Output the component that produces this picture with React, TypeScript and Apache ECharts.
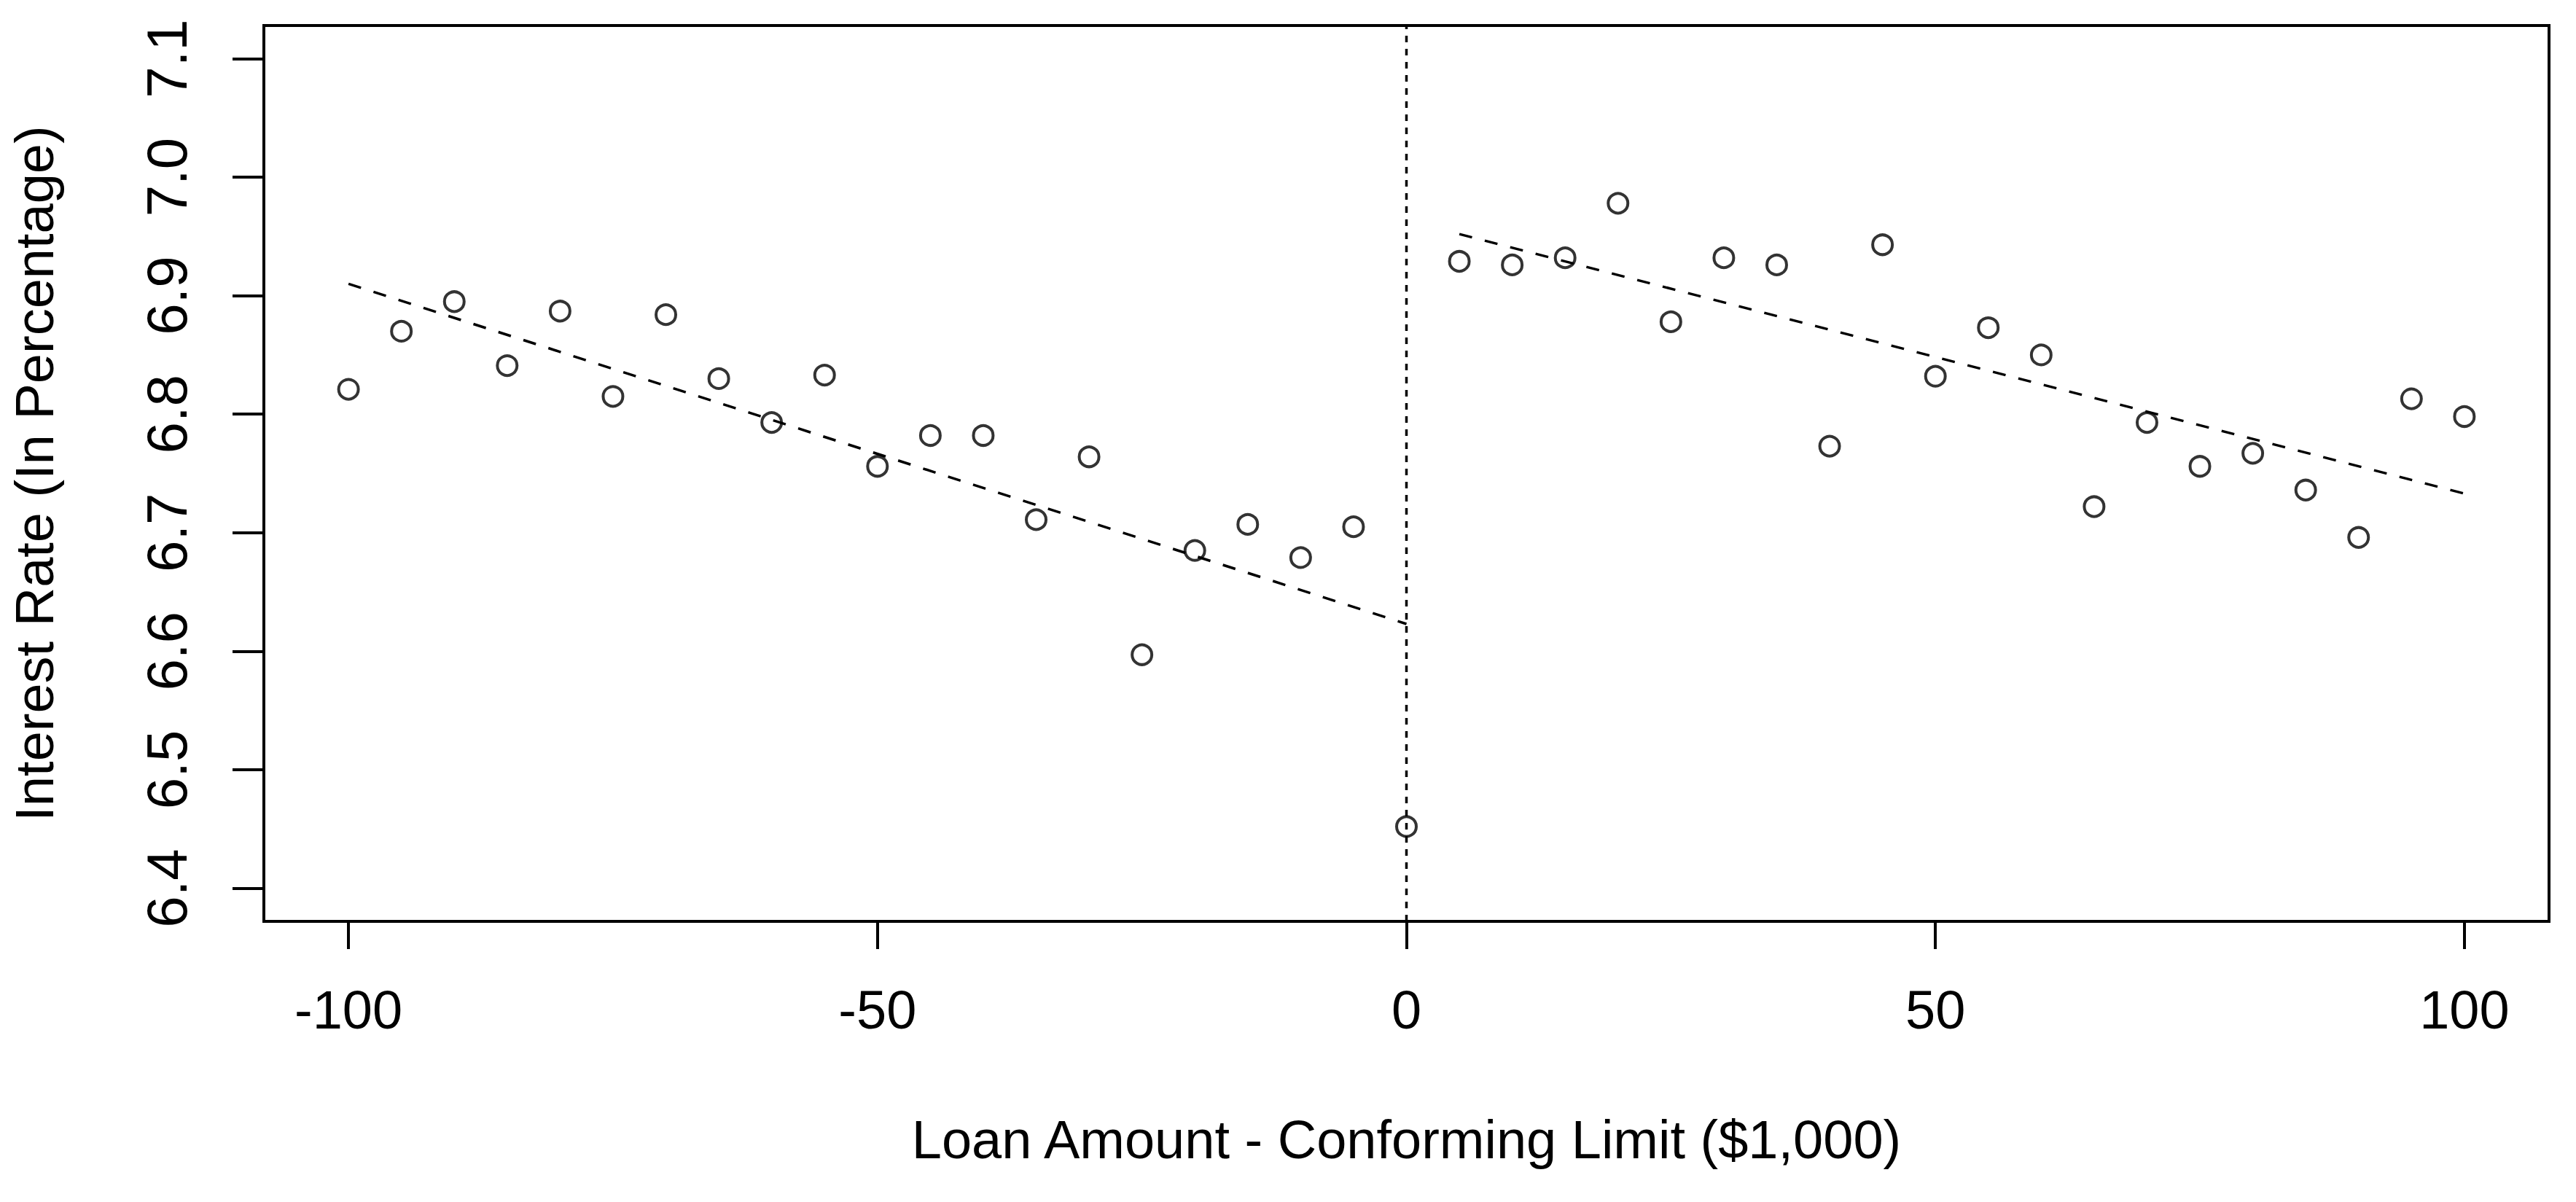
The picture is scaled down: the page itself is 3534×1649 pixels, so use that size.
import React, { useEffect, useRef } from "react";
import * as echarts from "echarts";

// Bin centers: loan amount minus conforming limit ($1,000)
const xValues = [
  -100, -95, -90, -85, -80, -75, -70, -65, -60, -55, -50, -45, -40, -35, -30, -25, -20, -15, -10, -5,
  0,
  5, 10, 15, 20, 25, 30, 35, 40, 45, 50, 55, 60, 65, 70, 75, 80, 85, 90, 95, 100,
];
// Mean interest rate (percent) per bin
const yValues = [
  6.821, 6.87, 6.895, 6.841, 6.887, 6.815, 6.884, 6.83, 6.793, 6.833, 6.756, 6.782, 6.782, 6.711, 6.764,
  6.597, 6.685, 6.707, 6.679, 6.705,
  6.452,
  6.929, 6.926, 6.932, 6.978, 6.878, 6.932, 6.926, 6.773, 6.943, 6.832, 6.873, 6.85, 6.722, 6.793, 6.756,
  6.767, 6.736, 6.696, 6.813, 6.798,
];

// Fitted lines on each side of the cutoff
const leftFitX = [-100, 0];
const leftFitY = [6.91, 6.623];
const rightFitX = [5, 100];
const rightFitY = [6.952, 6.733];

const cutoffX = 0;

const xTicks = [-100, -50, 0, 50, 100];
const yTicks = [6.4, 6.5, 6.6, 6.7, 6.8, 6.9, 7.0, 7.1];
const xRange = [-108, 108];
const yRange = [6.372, 7.128];

const xTitle = "Loan Amount - Conforming Limit ($1,000)";
const yTitle = "Interest Rate (In Percentage)";

const FONT = "'Liberation Sans', Arial, sans-serif";
const FS = 74;

export default function App() {
  const ref = useRef<HTMLDivElement>(null);

  useEffect(() => {
    if (!ref.current) return;
    const chart = echarts.init(ref.current, null, { renderer: "svg" });

    const points = xValues.map((x, i) => [x, yValues[i]]);
    const leftFit = leftFitX.map((x, i) => [x, leftFitY[i]]);
    const rightFit = rightFitX.map((x, i) => [x, rightFitY[i]]);
    const cutoff = [
      [cutoffX, yRange[0]],
      [cutoffX, yRange[1]],
    ];

    chart.setOption({
      animation: false,
      backgroundColor: "#ffffff",
      textStyle: { fontFamily: FONT },
      grid: {
        show: true,
        left: 362,
        top: 35,
        width: 3135,
        height: 1229,
        borderColor: "#000",
        borderWidth: 4,
        backgroundColor: "transparent",
        containLabel: false,
      },
      xAxis: {
        type: "value",
        min: xRange[0],
        max: xRange[1],
        position: "bottom",
        name: xTitle,
        nameLocation: "middle",
        nameGap: 262,
        nameTextStyle: { fontFamily: FONT, fontSize: FS, color: "#000" },
        axisLine: { show: false, onZero: false },
        splitLine: { show: false },
        axisTick: {
          show: true,
          length: 38,
          customValues: xTicks,
          lineStyle: { color: "#000", width: 4 },
        },
        axisLabel: {
          customValues: xTicks,
          margin: 84,
          fontFamily: FONT,
          fontSize: FS,
          color: "#000",
          formatter: (v: number) => String(v),
        },
      },
      yAxis: {
        type: "value",
        min: yRange[0],
        max: yRange[1],
        position: "left",
        name: yTitle,
        nameLocation: "middle",
        nameRotate: 90,
        nameGap: 278,
        nameTextStyle: { fontFamily: FONT, fontSize: FS, color: "#000" },
        axisLine: { show: false, onZero: false },
        splitLine: { show: false },
        axisTick: {
          show: true,
          length: 43,
          customValues: yTicks,
          lineStyle: { color: "#000", width: 4 },
        },
        axisLabel: {
          customValues: yTicks,
          rotate: 90,
          margin: 94,
          fontFamily: FONT,
          fontSize: 78,
          color: "#000",
          formatter: (v: number) => v.toFixed(1),
        },
      },
      series: [
        {
          type: "line",
          data: cutoff,
          symbol: "none",
          silent: true,
          lineStyle: { color: "#000", width: 3.5, type: [9, 9] },
        },
        {
          type: "line",
          data: leftFit,
          symbol: "none",
          silent: true,
          lineStyle: { color: "#000", width: 3.5, type: [18, 18] },
        },
        {
          type: "line",
          data: rightFit,
          symbol: "none",
          silent: true,
          lineStyle: { color: "#000", width: 3.5, type: [18, 18] },
        },
        {
          type: "scatter",
          data: points,
          symbol: "circle",
          symbolSize: 27,
          itemStyle: {
            color: "rgba(0,0,0,0)",
            borderColor: "#000",
            borderWidth: 4,
          },
        },
      ],
    });

    return () => chart.dispose();
  }, []);

  return (
    <div
      ref={ref}
      style={{
        position: "fixed",
        left: 0,
        top: 0,
        width: 3534,
        height: 1649,
        background: "#fff",
      }}
    />
  );
}
